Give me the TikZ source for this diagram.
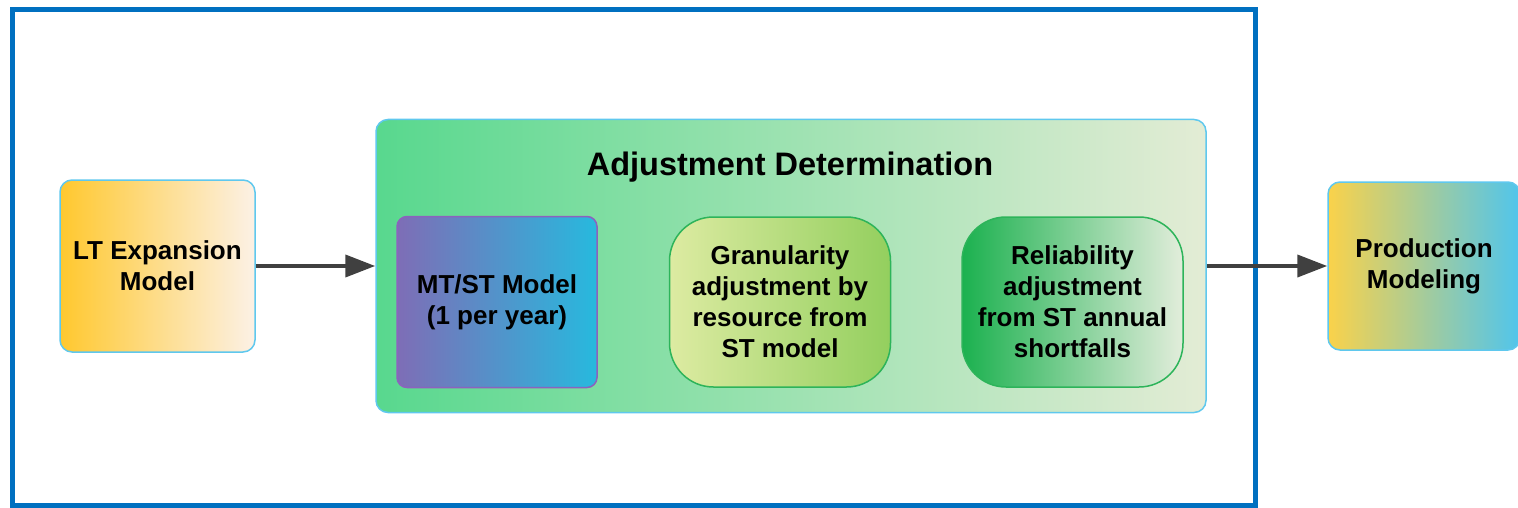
\documentclass[tikz,border=0pt]{standalone}
\usepackage{fontspec}
\setmainfont{Liberation Sans}
\usetikzlibrary{arrows.meta}

\definecolor{frameblue}{RGB}{0,112,192}
\definecolor{edgeblue}{RGB}{95,200,238}
\definecolor{arrowgray}{RGB}{64,64,64}
\definecolor{ltorange}{RGB}{255,200,46}
\definecolor{ltcream}{RGB}{252,241,230}
\definecolor{adjgreen}{RGB}{88,216,142}
\definecolor{adjpale}{RGB}{227,236,213}
\definecolor{mtpurple}{RGB}{126,109,182}
\definecolor{mtcyan}{RGB}{39,185,222}
\definecolor{mtedge}{RGB}{140,98,190}
\definecolor{granpale}{RGB}{221,235,162}
\definecolor{grangreen}{RGB}{147,207,94}
\definecolor{relgreen}{RGB}{27,177,79}
\definecolor{relpale}{RGB}{226,237,219}
\definecolor{pilledge}{RGB}{45,180,90}
\definecolor{prodyellow}{RGB}{250,210,74}
\definecolor{prodblue}{RGB}{80,197,236}

\begin{document}
\begin{tikzpicture}[x=1pt, y=-1pt, align=center, font=\bfseries\fontsize{26}{31}\selectfont]
	\tikzstyle{box}=[draw=edgeblue, line width=1.5pt, rounded corners=12pt, inner sep=0pt]
	\tikzstyle{pill}=[draw=pilledge, line width=1.5pt, rounded corners=44pt, inner sep=0pt, minimum width=221pt, minimum height=170pt]
	\tikzstyle{link}=[draw=arrowgray, line width=4pt, -{Triangle[length=30pt,width=22pt]}]

	\useasboundingbox (0,0) rectangle (1518,508);
	\draw[frameblue, line width=5pt] (12.5,10) rectangle (1255,505);

	% outer stages
	\node[box, left color=ltorange, right color=ltcream, minimum width=195pt, minimum height=172pt] (lt) at (157.5,266) {LT Expansion\\Model};
	\node[box, left color=prodyellow, right color=prodblue, minimum width=192pt, minimum height=168pt] (prod) at (1424,266) {Production\\Modeling};

	% adjustment block and its parts
	\node[box, left color=adjgreen, right color=adjpale, minimum width=830pt, minimum height=293pt] (adj) at (791,266) {};
	\node (adjtitle) at (790,167) {\fontsize{32.5}{38}\selectfont Adjustment Determination};
	\node[box, draw=mtedge, rounded corners=10pt, left color=mtpurple, right color=mtcyan, minimum width=200pt, minimum height=171pt] (mtst) at (497,302) {MT/ST Model\\(1 per year)};
	\node[pill, left color=granpale, right color=grangreen] (gran) at (780,302) {Granularity\\adjustment by\\resource from\\ST model};
	\node[pill, left color=relgreen, right color=relpale] (rel) at (1072.5,302) {Reliability\\adjustment\\from ST annual\\shortfalls};

	\draw[link] (lt) -- (adj);
	\draw[link] (adj) -- (prod);
\end{tikzpicture}
\end{document}
